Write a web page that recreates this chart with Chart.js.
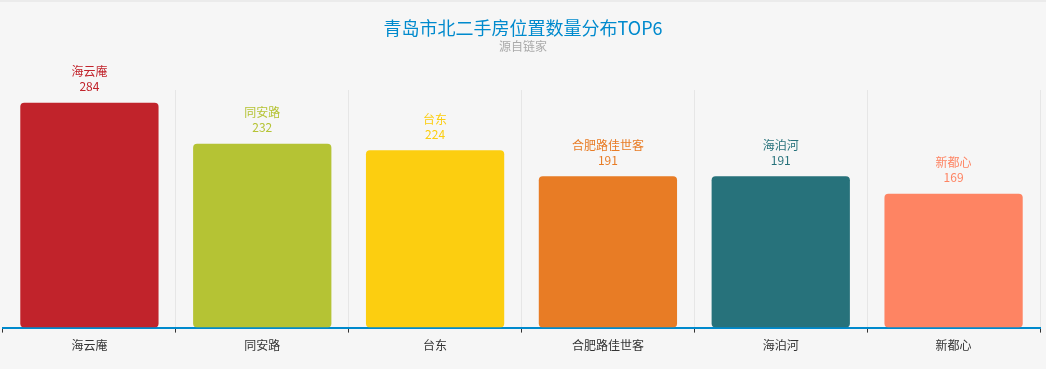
<!DOCTYPE html>
<html>
<head>
<meta charset="utf-8">
<script src="https://cdn.jsdelivr.net/npm/chart.js@4/dist/chart.umd.min.js"></script>
<style>
  html, body { margin: 0; padding: 0; background: #f6f6f6; }
  body { border-top: 2px solid #ebebeb; box-sizing: border-box; }
  #wrap { width: 1046px; height: 367px; }
</style>
</head>
<body>
<div id="wrap"><canvas id="chart" width="1046" height="367"></canvas></div>
<script>
// data
const categories = ['海云庵', '同安路', '台东', '合肥路佳世客', '海泊河', '新都心'];
const counts = [284, 232, 224, 191, 191, 169];
const colors = ['#c1232b', '#b5c334', '#fcce10', '#e87c25', '#27727b', '#fe8463'];

const FONT = '"Noto Sans CJK SC", "Noto Sans", sans-serif';

// draws name + value above each bar, and the title block
const labelPlugin = {
  id: 'barLabels',
  afterDatasetsDraw(chart) {
    const ctx = chart.ctx;
    const meta = chart.getDatasetMeta(0);
    ctx.save();
    ctx.textAlign = 'center';
    ctx.textBaseline = 'middle';
    ctx.font = '12px ' + FONT;
    meta.data.forEach((bar, i) => {
      ctx.fillStyle = colors[i];
      ctx.fillText(categories[i], bar.x, bar.y - 31);
      ctx.fillText(String(counts[i]), bar.x, bar.y - 16);
    });
    ctx.restore();
  },
  afterDraw(chart) {
    const ctx = chart.ctx;
    ctx.save();
    ctx.textAlign = 'center';
    ctx.textBaseline = 'middle';
    ctx.fillStyle = '#008acd';
    ctx.font = '18px ' + FONT;
    ctx.fillText('青岛市北二手房位置数量分布TOP6', chart.width / 2, 26);
    ctx.fillStyle = '#aaaaaa';
    ctx.font = '12px ' + FONT;
    ctx.fillText('源自链家', chart.width / 2, 44);
    ctx.restore();
  }
};

new Chart(document.getElementById('chart'), {
  type: 'bar',
  data: {
    labels: categories,
    datasets: [{
      data: counts,
      backgroundColor: colors,
      borderRadius: 4,
      borderSkipped: false,
      barPercentage: 0.8,
      categoryPercentage: 1.0
    }]
  },
  options: {
    responsive: false,
    animation: false,
    layout: { padding: { top: 88, left: 3, right: 6, bottom: 10 } },
    plugins: {
      legend: { display: false },
      tooltip: { enabled: false },
      title: { display: false }
    },
    scales: {
      x: {
        offset: true,
        grid: {
          // no grid line at the two outer edges
          color: (c) => (c.index === 0 || c.index === categories.length) ? 'rgba(0,0,0,0)' : '#e6e6e6',
          tickColor: '#333',
          tickLength: 5,
          offset: true
        },
        border: { color: '#008acd', width: 2 },
        ticks: {
          color: '#333',
          font: { size: 12, family: FONT },
          padding: 6
        }
      },
      y: {
        display: false,
        min: 0,
        max: 300
      }
    }
  },
  plugins: [labelPlugin]
});
</script>
</body>
</html>
